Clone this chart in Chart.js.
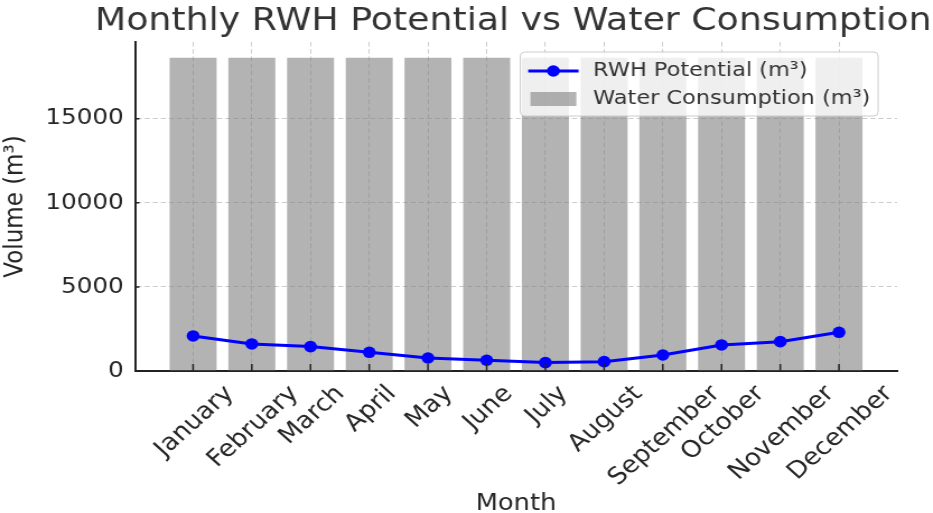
<!DOCTYPE html>
<html>
<head>
<meta charset="utf-8">
<script src="https://cdn.jsdelivr.net/npm/chart.js@4.4.0/dist/chart.umd.min.js"></script>
<style>
  html, body { margin: 0; padding: 0; background: #fff; overflow: hidden; }
  #wrap { width: 933px; height: 513px; }
  /* the reference picture is stretched sideways a little; do the same */
  #rwhChart { transform: scaleX(1.12); transform-origin: 0 0; }
</style>
</head>
<body>
<div id="wrap"><canvas id="rwhChart" width="833" height="513"></canvas></div>
<script>
// ------
// data
// ------
const months = ['January', 'February', 'March', 'April', 'May', 'June',
  'July', 'August', 'September', 'October', 'November', 'December'];
const rwhPotential = [2083, 1607, 1450, 1113, 774, 640, 500, 555, 950, 1550, 1745, 2300];
const waterConsumption = [18630, 18630, 18630, 18630, 18630, 18630,
  18630, 18630, 18630, 18630, 18630, 18630];
const yTicks = [0, 5000, 10000, 15000];

const FONT = 'DejaVu Sans';
const TEXT = '#262626';
const BAR_GREY = 'rgba(128,128,128,0.6)';
const LINE_BLUE = '#0000ff';

Chart.defaults.font.family = FONT;

// ------
// title over the plot area
// ------
const titlePlugin = {
  id: 'plotTitle',
  afterDraw(chart) {
    const { ctx, chartArea } = chart;
    ctx.save();
    ctx.font = '32.4px "' + FONT + '"';
    ctx.fillStyle = '#333333';
    ctx.textAlign = 'center';
    ctx.textBaseline = 'alphabetic';
    ctx.fillText('Monthly RWH Potential vs Water Consumption', (chartArea.left + chartArea.right) / 2 - 2.5, 30);
    ctx.restore();
  },
};

// ------
// rotated month labels, centred on the tick like matplotlib
// ------
const monthLabels = {
  id: 'monthLabels',
  afterDraw(chart) {
    const { ctx, chartArea } = chart;
    const xs = chart.scales.x;
    const size = 23.5;
    ctx.save();
    ctx.font = size + 'px "' + FONT + '"';
    ctx.fillStyle = TEXT;
    ctx.textAlign = 'center';
    ctx.textBaseline = 'alphabetic';
    months.forEach((m, i) => {
      const w = ctx.measureText(m).width;
      const h = size * 1.164;
      const side = (w + h) * Math.SQRT1_2;
      const cx = xs.getPixelForValue(i);
      const cy = chartArea.bottom + 8 + side / 2;
      ctx.save();
      ctx.translate(cx, cy);
      ctx.rotate(-Math.PI / 4);
      ctx.fillText(m, 0, size * 0.346);
      ctx.restore();
    });
    ctx.restore();
  },
};

// ------
// inward tick marks
// ------
const innerTicks = {
  id: 'innerTicks',
  afterDatasetsDraw(chart) {
    const { ctx, chartArea } = chart;
    ctx.save();
    ctx.strokeStyle = '#222222';
    ctx.lineWidth = 1.5;
    ctx.beginPath();
    months.forEach((m, i) => {
      const x = chart.scales.x.getPixelForValue(i);
      ctx.moveTo(x, chartArea.bottom);
      ctx.lineTo(x, chartArea.bottom - 7);
    });
    yTicks.forEach(v => {
      const y = chart.scales.y.getPixelForValue(v);
      ctx.moveTo(chartArea.left, y);
      ctx.lineTo(chartArea.left + 4, y);
    });
    ctx.stroke();
    ctx.restore();
  },
};

// ------
// legend box in the upper right of the plot
// ------
const legendBox = {
  id: 'legendBox',
  afterDraw(chart) {
    const { ctx, chartArea } = chart;
    const ds = chart.data.datasets;
    ctx.save();
    ctx.font = '20px "' + FONT + '"';
    const textW = Math.max(...ds.map(d => ctx.measureText(d.label).width));
    const boxW = 7 + 45 + 13 + textW + 7;
    const boxH = 64;
    const right = chartArea.right - 17;
    const left = right - boxW;
    const top = chartArea.top + 10;

    ctx.fillStyle = 'rgba(255,255,255,0.8)';
    ctx.strokeStyle = '#cccccc';
    ctx.lineWidth = 1;
    ctx.beginPath();
    ctx.roundRect(left, top, boxW, boxH, 4);
    ctx.fill();
    ctx.stroke();

    const row1 = top + 19;
    const row2 = top + 47;
    const hx = left + 7;

    ctx.strokeStyle = LINE_BLUE;
    ctx.lineWidth = 3;
    ctx.beginPath();
    ctx.moveTo(hx, row1);
    ctx.lineTo(hx + 45, row1);
    ctx.stroke();
    ctx.fillStyle = LINE_BLUE;
    ctx.beginPath();
    ctx.arc(hx + 22.5, row1, 5.8, 0, Math.PI * 2);
    ctx.fill();

    ctx.fillStyle = BAR_GREY;
    ctx.fillRect(hx + 2, row2 - 7, 41, 14);

    ctx.fillStyle = '#333333';
    ctx.textAlign = 'left';
    ctx.textBaseline = 'middle';
    ctx.fillText(ds[0].label, hx + 58, row1);
    ctx.fillText(ds[1].label, hx + 58, row2);
    ctx.restore();
  },
};

// ------
// chart
// ------
const ctx = document.getElementById('rwhChart');
new Chart(ctx, {
  type: 'bar',
  data: {
    datasets: [
      {
        type: 'line',
        label: 'RWH Potential (m³)',
        data: months.map((m, i) => ({ x: i, y: rwhPotential[i] })),
        borderColor: LINE_BLUE,
        backgroundColor: LINE_BLUE,
        borderWidth: 3,
        pointRadius: 5.8,
        pointBorderWidth: 0,
        pointBackgroundColor: LINE_BLUE,
        tension: 0,
        order: 0,
      },
      {
        type: 'bar',
        label: 'Water Consumption (m³)',
        data: months.map((m, i) => ({ x: i, y: waterConsumption[i] })),
        backgroundColor: BAR_GREY,
        borderWidth: 0,
        barPercentage: 0.8,
        categoryPercentage: 1.0,
        order: 1,
      },
    ],
  },
  options: {
    responsive: false,
    animation: false,
    layout: {
      padding: { top: 42, right: 32, left: 0, bottom: 0 },
    },
    plugins: {
      legend: { display: false },
      title: { display: false },
      tooltip: { enabled: false },
    },
    scales: {
      x: {
        type: 'linear',
        min: -0.99,
        max: 11.99,
        offset: false,
        afterBuildTicks: (axis) => { axis.ticks = months.map((m, i) => ({ value: i })); },
        afterFit: (axis) => { axis.height = 142; },
        ticks: { display: false },
        grid: { color: '#cccccc', lineWidth: 1, drawTicks: false, offset: false },
        border: { display: true, color: '#222222', width: 2, dash: [4.5, 2.7] },
        title: {
          display: true,
          text: 'Month',
          color: TEXT,
          font: { size: 23, lineHeight: 0.75 },
          padding: { top: 0, bottom: 0 },
        },
      },
      y: {
        min: 0,
        max: 19560,
        afterBuildTicks: (axis) => { axis.ticks = yTicks.map(v => ({ value: v })); },
        afterFit: (axis) => { axis.width = 120.5; },
        ticks: { color: TEXT, font: { size: 22 }, padding: 10, callback: (v) => String(v) },
        grid: { color: '#cccccc', lineWidth: 1, drawTicks: false },
        border: { display: true, color: '#222222', width: 2, dash: [4.5, 2.7] },
        title: {
          display: true,
          text: 'Volume (m³)',
          color: TEXT,
          font: { size: 23 },
          padding: { top: 0, bottom: 0 },
        },
      },
    },
  },
  plugins: [titlePlugin, innerTicks, monthLabels, legendBox],
});
</script>
</body>
</html>
